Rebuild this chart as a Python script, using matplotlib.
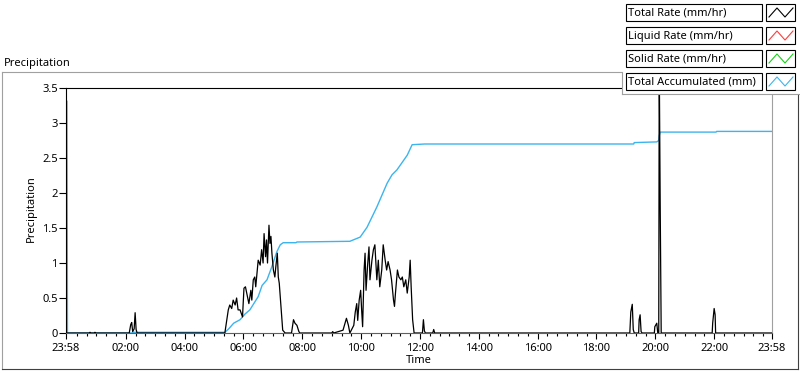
import matplotlib
matplotlib.use("Agg")
import matplotlib.pyplot as plt
from matplotlib.patches import Rectangle
from matplotlib.lines import Line2D

plt.rcParams['font.family'] = ['Noto Sans', 'DejaVu Sans']

# time in minutes after midnight (23:58 of the day before = -2)
rate_min = [-2, 45, 47, 49, 56, 57, 59,
            127, 129, 130, 132, 134, 137, 139, 141, 143,
            322, 326, 329, 332, 336, 339, 343, 346, 349, 353, 358, 361, 364, 368, 371,
            375, 377, 380, 383, 385, 390, 394, 397, 400, 402, 405, 407, 409, 412, 414,
            416, 418, 421, 424, 426, 429, 431, 433, 437, 440, 445,
            458, 462, 465, 469, 473, 475,
            540, 542, 544, 563, 570, 574, 577, 585, 588, 591, 593, 596, 599, 601, 603,
            606, 608, 610, 613, 616, 618, 622, 625, 628, 632, 635, 638, 642, 645, 649,
            652, 655, 659, 662, 666, 668, 670, 674, 677, 681, 684, 687, 691, 694, 698,
            700, 702, 705, 708,
            725, 727, 729, 731, 746, 748, 750,
            1148, 1150, 1153, 1155, 1157, 1166, 1167, 1169, 1171, 1173,
            1198, 1199, 1203, 1205, 1207, 1208, 1210, 1212,
            1316, 1317, 1320, 1322, 1323, 1438]
rate_val = [0, 0, 0.01, 0, 0, 0.01, 0,
            0, 0.08, 0.12, 0.15, 0.02, 0.06, 0.29, 0.05, 0,
            0, 0.19, 0.33, 0.40, 0.35, 0.47, 0.40, 0.50, 0.33, 0.33, 0.23, 0.64, 0.66, 0.52, 0.42,
            0.61, 0.47, 0.76, 0.80, 0.66, 1.04, 0.97, 1.19, 1.00, 1.42, 1.09, 1.33, 1.00, 1.54, 1.28,
            1.38, 1.14, 0.90, 0.80, 0.95, 1.14, 0.80, 0.71, 0.33, 0.04, 0,
            0, 0.19, 0.14, 0.11, 0.02, 0,
            0, 0.02, 0, 0.04, 0.21, 0.11, 0, 0.11, 0.30, 0.42, 0.18, 0.47, 0.61, 0.33, 0.09,
            0.90, 1.14, 0.61, 0.95, 1.23, 0.76, 1.04, 1.19, 1.26, 0.76, 1.04, 0.66, 0.90, 1.26, 1.04,
            0.90, 1.02, 0.90, 0.76, 0.47, 0.38, 0.57, 0.90, 0.80, 0.76, 0.80, 0.66, 0.76, 0.57, 0.80,
            1.04, 0.66, 0.19, 0,
            0, 0.19, 0.03, 0, 0, 0.05, 0,
            0, 0.30, 0.41, 0.05, 0, 0, 0.19, 0.26, 0.02, 0,
            0, 0.09, 0.14, 0, 0, 3.9, 1.8, 0,
            0, 0.14, 0.35, 0.26, 0, 0]

acc_min = [0, 1, 133, 135, 322, 330, 340, 353, 363, 373, 390, 398, 408, 418, 428, 435, 441,
           467, 469, 577, 598, 612, 632, 653, 663, 673, 694, 704, 730,
           1156, 1157, 1203, 1207, 1208, 1210, 1324, 1325, 1438]
acc_val = [3.31, 0, 0, 0.01, 0.01, 0.06, 0.14, 0.19, 0.27, 0.33, 0.52, 0.68, 0.76, 0.95, 1.16, 1.26, 1.29,
           1.29, 1.30, 1.31, 1.37, 1.51, 1.80, 2.14, 2.26, 2.33, 2.54, 2.69, 2.70,
           2.70, 2.72, 2.73, 2.75, 2.82, 2.87, 2.87, 2.88, 2.88]

legend_labels = ["Total Rate (mm/hr)", "Liquid Rate (mm/hr)", "Solid Rate (mm/hr)", "Total Accumulated (mm)"]
legend_colors = ["#000000", "#ff3c3c", "#18d018", "#3cb4ee"]

tick_pos = [-2, 120, 240, 360, 480, 600, 720, 840, 960, 1080, 1200, 1320, 1438]
tick_lbl = ["23:58", "02:00", "04:00", "06:00", "08:00", "10:00", "12:00",
            "14:00", "16:00", "18:00", "20:00", "22:00", "23:58"]
y_ticks = [0, 0.5, 1, 1.5, 2, 2.5, 3, 3.5]
y_lbl = ["0", "0.5", "1", "1.5", "2", "2.5", "3", "3.5"]

W, H = 800, 373
fig = plt.figure(figsize=(W / 100, H / 100), dpi=100)


def fx(x):
    return x / W


def fy(y):
    return 1 - y / H


ax = fig.add_axes([fx(66), fy(333), fx(772) - fx(66), fy(88) - fy(333)])
ax.plot(acc_min, acc_val, color=legend_colors[3], lw=1.0, zorder=2)
ax.plot(rate_min, rate_val, color=legend_colors[0], lw=0.9, zorder=3)

ax.set_xlim(-2, 1438)
ax.set_ylim(0, 3.5)
ax.set_xticks(tick_pos)
ax.set_xticklabels(tick_lbl)
ax.set_xticks([m for m in range(20, 1438, 20) if m % 120 != 0], minor=True)
ax.set_yticks(y_ticks)
ax.set_yticklabels(y_lbl)
ax.tick_params(axis='x', which='major', length=4, width=0.8, pad=3, labelsize=8)
ax.tick_params(axis='x', which='minor', length=2.2, width=0.8)
ax.tick_params(axis='y', which='major', length=5, width=0.8, pad=1, labelsize=8)
ax.spines['left'].set_color('black')
ax.spines['top'].set_color('black')
ax.spines['right'].set_color('#a0a0a0')
ax.spines['bottom'].set_color('#606060')
for s in ax.spines.values():
    s.set_linewidth(0.8)

ax.set_xlabel("Time", fontsize=8, labelpad=1)
fig.text(fx(31), fy(209), "Precipitation", rotation=90, ha='center', va='center', fontsize=8)
fig.text(fx(4), fy(66), "Precipitation", ha='left', va='baseline', fontsize=8)

# outer panel frame
fig.lines.append(Line2D([fx(2), fx(798)], [fy(72), fy(72)], transform=fig.transFigure, color='#a0a0a0', lw=0.8))
fig.lines.append(Line2D([fx(2), fx(2)], [fy(72), fy(369)], transform=fig.transFigure, color='#a0a0a0', lw=0.8))
fig.lines.append(Line2D([fx(2), fx(798)], [fy(369), fy(369)], transform=fig.transFigure, color='#404040', lw=0.8))
fig.lines.append(Line2D([fx(798), fx(798)], [fy(72), fy(369)], transform=fig.transFigure, color='#404040', lw=0.8))

# legend panel (drawn over the plot)
fig.patches.append(Rectangle((fx(622), fy(94)), 1 - fx(622), fy(0) - fy(94), transform=fig.transFigure,
                             facecolor='white', edgecolor='none', zorder=5))
fig.lines.append(Line2D([fx(622), fx(622)], [fy(72), fy(94)], transform=fig.transFigure,
                        color='#a0a0a0', lw=0.8, zorder=6))
fig.lines.append(Line2D([fx(622), fx(800)], [fy(94), fy(94)], transform=fig.transFigure,
                        color='#a0a0a0', lw=0.8, zorder=6))

for i, (lab, col) in enumerate(zip(legend_labels, legend_colors)):
    y0 = 4 + 23 * i
    fig.patches.append(Rectangle((fx(626), fy(y0 + 17)), fx(762) - fx(626), fy(y0) - fy(y0 + 17),
                                 transform=fig.transFigure, facecolor='white', edgecolor='black',
                                 lw=0.8, zorder=7))
    fig.patches.append(Rectangle((fx(766), fy(y0 + 17)), fx(795) - fx(766), fy(y0) - fy(y0 + 17),
                                 transform=fig.transFigure, facecolor='white', edgecolor='black',
                                 lw=0.8, zorder=7))
    fig.lines.append(Line2D([fx(769), fx(777), fx(785), fx(793)],
                            [fy(y0 + 13), fy(y0 + 4), fy(y0 + 13), fy(y0 + 4)],
                            transform=fig.transFigure, color=col, lw=0.8, zorder=8))
    fig.text(fx(628), fy(y0 + 9), lab, ha='left', va='center', fontsize=8, zorder=8)

fig.savefig("out.png", dpi=100)
